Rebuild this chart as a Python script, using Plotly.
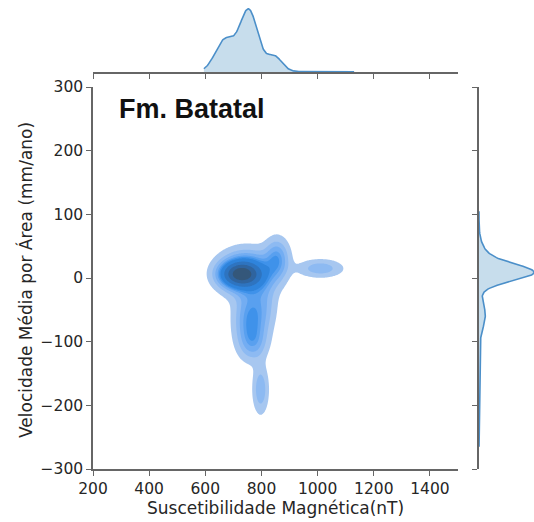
import numpy as np
import plotly.graph_objects as go

# ---- data (KDE components) ----
# 2D density components: centre x, centre y, spread x, spread y, weight
comp_x = [725, 748, 762, 770, 812, 855, 1010, 797]
comp_y = [6, 8, -65, -102, -38, 30, 15, -175]
comp_sx = [42, 60, 36, 32, 30, 28, 50, 18]
comp_sy = [12, 21, 30, 18, 28, 20, 9, 24]
comp_w = [0.7, 0.9, 0.5, 0.12, 0.13, 0.22, 0.11, 0.11]

# top marginal (Suscetibilidade) components
mx_mu = [670, 755, 845, 1000]
mx_sd = [35, 32, 28, 60]
mx_w = [0.47, 0.90, 0.23, 0.012]

# right marginal (Velocidade) components
my_mu = [8, 25, -58, -150]
my_sd = [13, 20, 20, 50]
my_w = [0.95, 0.18, 0.12, 0.02]

x_ticks = [200, 400, 600, 800, 1000, 1200, 1400]
y_ticks = [-300, -200, -100, 0, 100, 200, 300]
x_range = [200, 1500]
y_range = [-300, 300]

title_text = "Fm. Batatal"
x_title = "Suscetibilidade Magnética(nT)"
y_title = "Velocidade Média por Área (mm/ano)"

band_colors = ['#a7c7f0', '#8dbaf2', '#73adf2', '#59a0ef', '#3f92ea',
               '#2f84dc', '#2e74c0', '#2f649f', '#34577a']

# ---- density grid ----
gx = np.linspace(450, 1300, 320)
gy = np.linspace(-300, 200, 320)
XX, YY = np.meshgrid(gx, gy)
Z = np.zeros_like(XX)
for cx, cy, sx, sy, w in zip(comp_x, comp_y, comp_sx, comp_sy, comp_w):
    Z += w / (sx * sy) * np.exp(-0.5 * (((XX - cx) / sx) ** 2 + ((YY - cy) / sy) ** 2))

# iso-proportion transform (like seaborn's levels)
flat = Z.ravel()
order = np.argsort(flat)
cums = np.cumsum(flat[order])
cums /= cums[-1]
prop = np.empty_like(flat)
prop[order] = cums
Zp = prop.reshape(Z.shape)

levels = np.linspace(0.05, 1, 10)
step = levels[1] - levels[0]

colorscale = [[0.0, '#ffffff']] + [[(i + 1) / 9, c] for i, c in enumerate(band_colors)]

# ---- marginals ----
tx = np.linspace(595, 1130, 300)
tz = np.zeros_like(tx)
for m, s, w in zip(mx_mu, mx_sd, mx_w):
    tz += w * np.exp(-0.5 * ((tx - m) / s) ** 2)

ry = np.linspace(-265, 105, 300)
rz = np.zeros_like(ry)
for m, s, w in zip(my_mu, my_sd, my_w):
    rz += w * np.exp(-0.5 * ((ry - m) / s) ** 2)

W, H = 534, 522
px_l, px_r = 93, 458
py_t, py_b = 87, 469

fig = go.Figure()
fig.add_trace(go.Contour(
    x=gx, y=gy, z=Zp, xaxis='x', yaxis='y',
    contours=dict(start=levels[0], end=levels[0] + 8.01 * step, size=step,
                  coloring='fill', showlines=False),
    line=dict(width=0, smoothing=1.0),
    colorscale=colorscale, showscale=False, hoverinfo='skip'))

line_col = '#4b8fc9'
fill_col = 'rgba(31,119,180,0.25)'
fig.add_trace(go.Scatter(x=tx, y=tz, xaxis='x2', yaxis='y2', mode='lines',
                         fill='tozeroy', fillcolor=fill_col,
                         line=dict(color=line_col, width=1.6), hoverinfo='skip'))
fig.add_trace(go.Scatter(x=rz, y=ry, xaxis='x3', yaxis='y3', mode='lines',
                         fill='tozerox', fillcolor=fill_col,
                         line=dict(color=line_col, width=1.6), hoverinfo='skip'))

spine = '#666666'
tickfont = dict(family='DejaVu Sans', size=15.5, color='#262626')
common = dict(showline=True, linecolor=spine, linewidth=1.5, ticks='outside',
              ticklen=5, tickwidth=1.3, tickcolor=spine, showgrid=False,
              zeroline=False, mirror=False, automargin=False)

xd = [px_l / W, px_r / W]
yd = [(H - py_b) / H, (H - py_t) / H]

fig.update_layout(
    width=W, height=H, margin=dict(l=0, r=0, t=0, b=0, autoexpand=False),
    paper_bgcolor='white', plot_bgcolor='white', showlegend=False,
    xaxis=dict(domain=xd, range=x_range, tickvals=x_ticks, anchor='y',
               tickfont=tickfont, **common),
    yaxis=dict(domain=yd, range=y_range, tickvals=y_ticks, anchor='x',
               tickfont=tickfont, **common),
    xaxis2=dict(domain=xd, range=x_range, tickvals=x_ticks, anchor='y2',
                showticklabels=False, **common),
    yaxis2=dict(domain=[(H - 72) / H, 1.0], range=[0, tz.max() * 1.14],
                anchor='x2', visible=False, automargin=False),
    xaxis3=dict(domain=[479 / W, 1.0], range=[0, rz.max() * 1.0],
                anchor='y3', visible=False, automargin=False),
    yaxis3=dict(domain=yd, range=y_range, tickvals=y_ticks, anchor='x3',
                showticklabels=False, side='left', **common),
)

fig.add_annotation(x=117 / W, y=(H - 109) / H, xref='paper', yref='paper',
                   text='<b>' + title_text + '</b>', showarrow=False,
                   xanchor='left', yanchor='middle',
                   font=dict(family='Liberation Sans', size=27, color='#111111'))
fig.add_annotation(x=275 / W, y=(H - 508) / H, xref='paper', yref='paper',
                   text=x_title, showarrow=False, xanchor='center', yanchor='middle',
                   font=dict(family='DejaVu Sans', size=17, color='#262626'))
fig.add_annotation(x=25 / W, y=(H - 280) / H, xref='paper', yref='paper',
                   text=y_title, showarrow=False, textangle=-90,
                   xanchor='center', yanchor='middle',
                   font=dict(family='DejaVu Sans', size=17, color='#262626'))

fig.write_html("out.html")
